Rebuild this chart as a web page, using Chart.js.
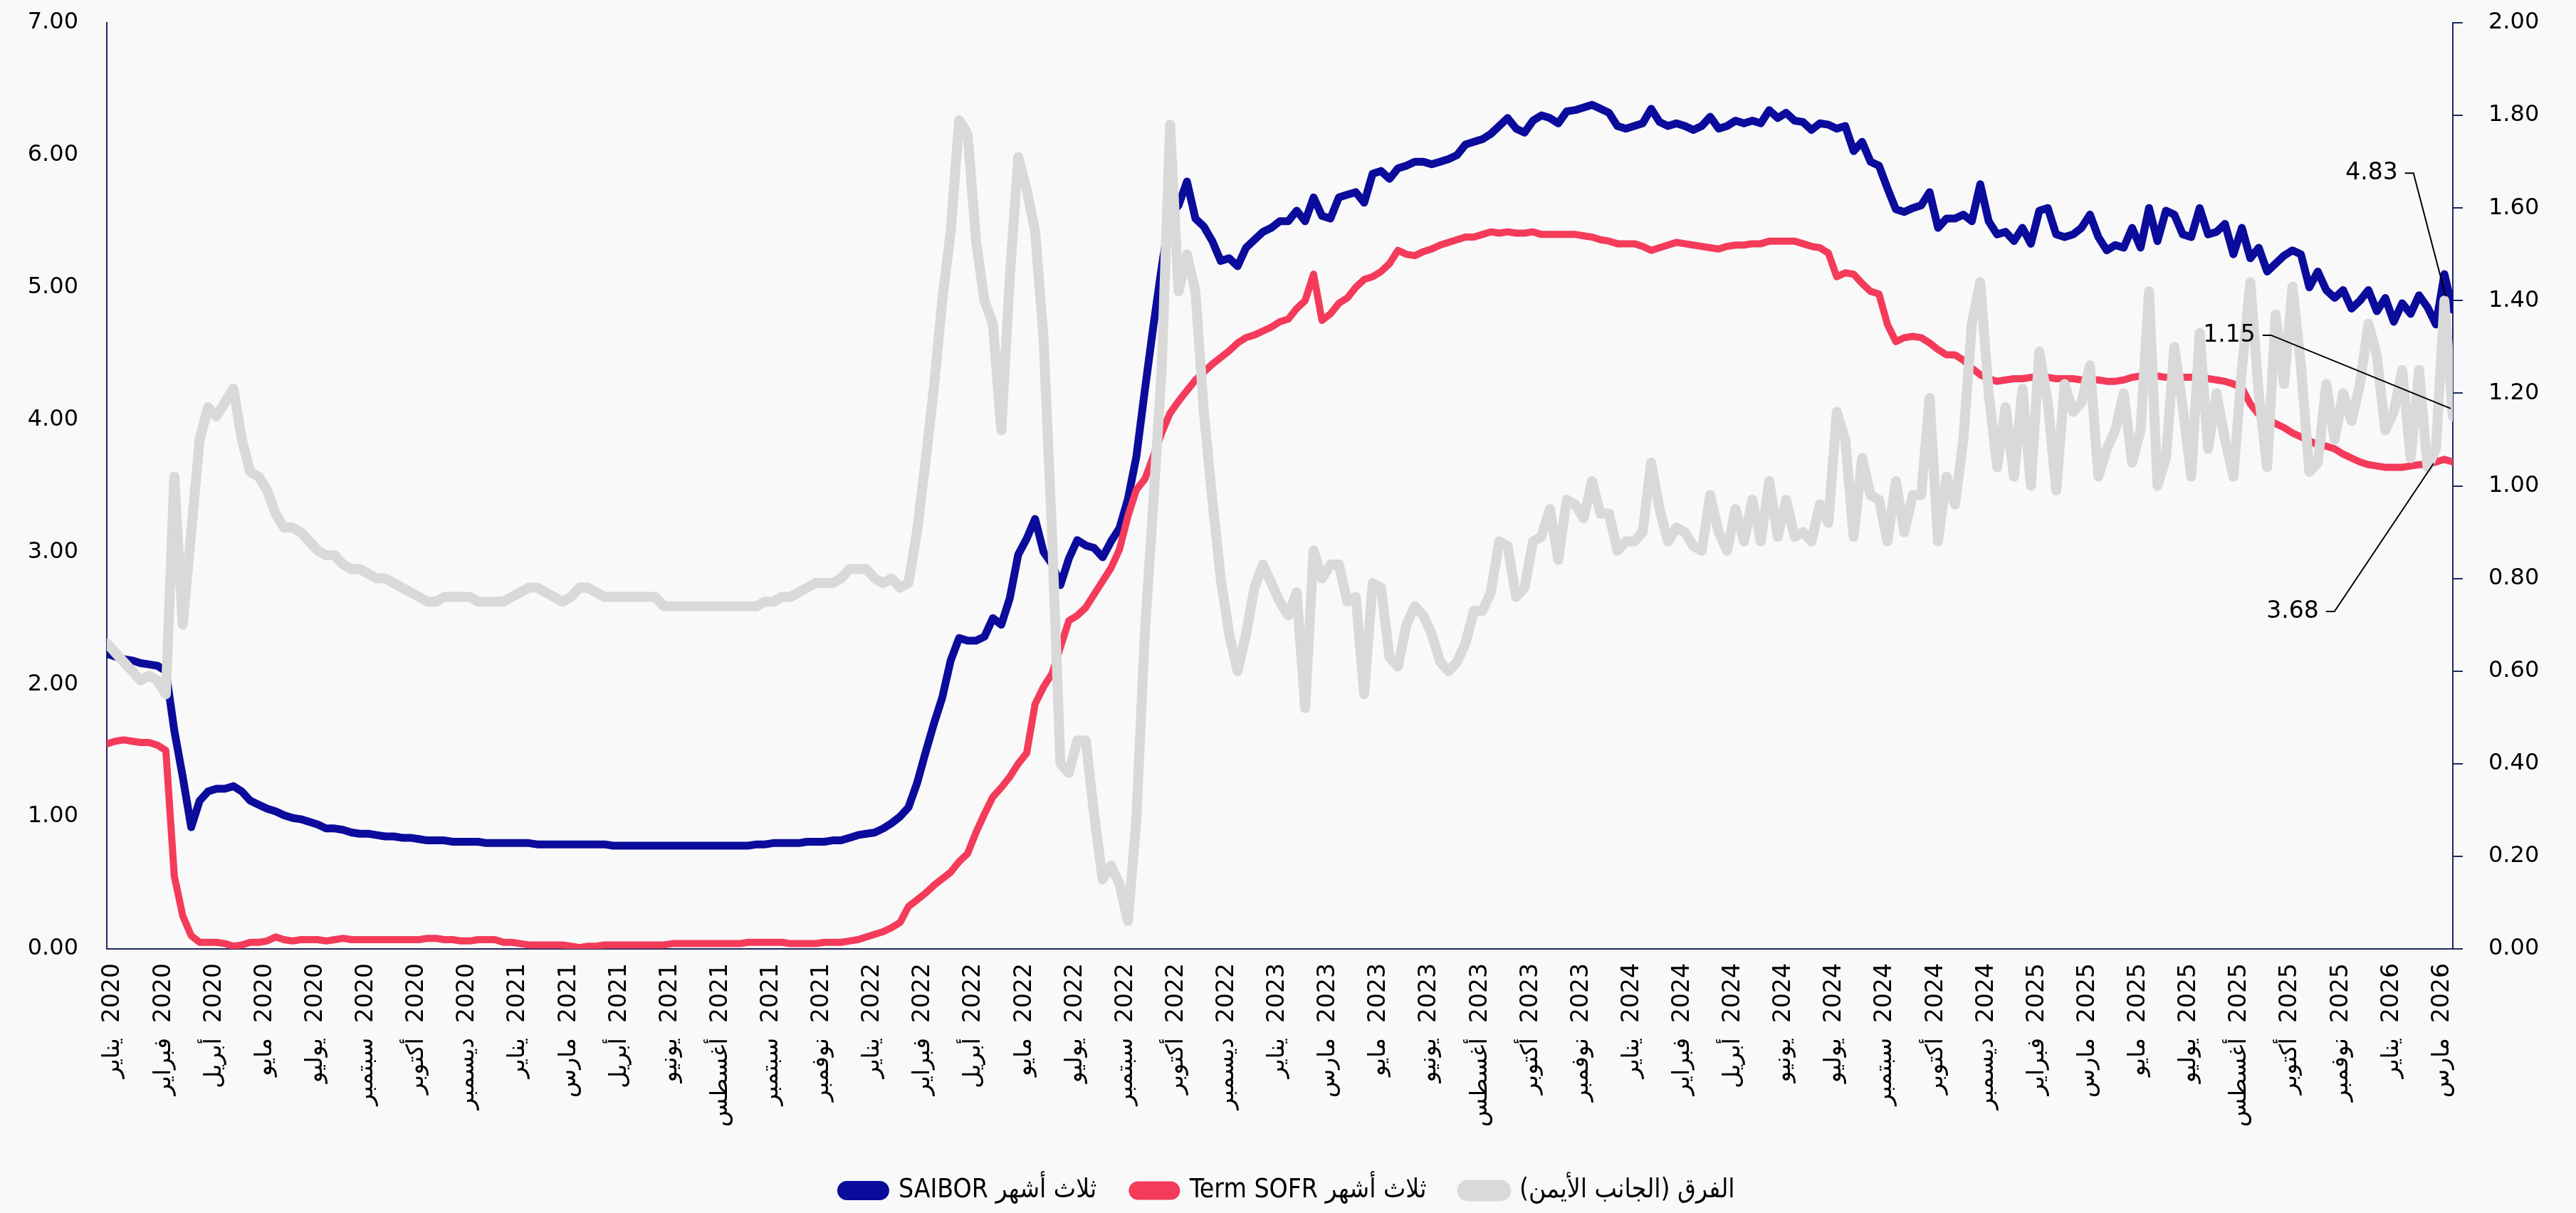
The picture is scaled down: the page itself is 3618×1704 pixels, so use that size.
<!DOCTYPE html>
<html><head><meta charset="utf-8">
<script src="https://cdn.jsdelivr.net/npm/chart.js@4.4.1/dist/chart.umd.min.js"></script>
<style>html,body{margin:0;padding:0;background:#f9f9f9;}#wrap{width:3618px;height:1704px;}</style>
</head><body><div id="wrap"><canvas id="c" width="3618" height="1704"></canvas></div>
<script>
// ---- tick labels (every 6th sample) ----
const months = ["يناير","فبراير","أبريل","مايو","يوليو","سبتمبر","أكتوبر","ديسمبر",
"يناير","مارس","أبريل","يونيو","أغسطس","سبتمبر","نوفمبر",
"يناير","فبراير","أبريل","مايو","يوليو","سبتمبر","أكتوبر","ديسمبر",
"يناير","مارس","مايو","يونيو","أغسطس","أكتوبر","نوفمبر",
"يناير","فبراير","أبريل","يونيو","يوليو","سبتمبر","أكتوبر","ديسمبر",
"فبراير","مارس","مايو","يوليو","أغسطس","أكتوبر","نوفمبر",
"يناير","مارس"];
const years = [2020,2020,2020,2020,2020,2020,2020,2020,
2021,2021,2021,2021,2021,2021,2021,
2022,2022,2022,2022,2022,2022,2022,2022,
2023,2023,2023,2023,2023,2023,2023,
2024,2024,2024,2024,2024,2024,2024,2024,
2025,2025,2025,2025,2025,2025,2025,
2026,2026];

// ---- series (roughly weekly samples) ----
const saibor = [
2.23,2.21,2.19,2.18,2.16,2.15,2.14,2.10,1.65,1.30,
0.92,1.12,1.19,1.21,1.21,1.23,1.19,1.12,1.09,1.06,
1.04,1.01,0.99,0.98,0.96,0.94,0.91,0.91,0.90,0.88,
0.87,0.87,0.86,0.85,0.85,0.84,0.84,0.83,0.82,0.82,
0.82,0.81,0.81,0.81,0.81,0.80,0.80,
0.80,0.80,0.80,0.80,0.79,0.79,0.79,0.79,0.79,0.79,0.79,0.79,0.79,
0.78,0.78,0.78,0.78,0.78,0.78,0.78,0.78,0.78,0.78,0.78,0.78,0.78,0.78,0.78,0.78,0.78,
0.79,0.79,0.80,0.80,0.80,0.80,0.81,0.81,0.81,0.82,0.82,0.84,0.86,0.87,0.88,0.91,0.95,
1.00,1.07,1.25,1.48,1.70,1.90,2.18,2.35,2.33,2.33,
2.36,2.50,2.45,2.65,2.98,3.10,3.25,3.00,2.91,2.75,
2.95,3.09,3.05,3.03,2.96,3.08,3.18,3.40,3.72,4.22,
4.70,5.15,5.55,5.62,5.80,5.52,5.46,5.35,5.20,5.22,
5.16,5.30,5.36,5.42,5.45,5.50,
5.50,5.58,5.50,5.68,5.54,5.52,5.68,5.70,5.72,5.64,
5.86,5.88,5.82,5.90,5.92,5.95,5.95,5.93,5.95,5.97,
6.00,6.08,6.10,6.12,6.16,6.22,6.28,6.20,6.17,6.26,
6.30,6.28,6.24,6.33,6.34,6.36,6.38,6.35,6.32,6.22,
6.20,6.22,6.24,6.35,6.25,6.22,
6.24,6.22,6.19,6.22,6.29,6.20,6.22,6.26,6.24,6.26,
6.24,6.34,6.28,6.32,6.26,6.25,6.19,6.24,6.23,6.20,
6.22,6.03,6.10,5.95,5.92,5.75,5.59,5.57,5.60,5.62,
5.72,5.45,5.52,5.52,5.55,5.50,5.78,5.50,5.40,5.42,
5.35,5.45,5.33,5.58,5.60,5.40,5.38,
5.40,5.45,5.55,5.38,5.28,5.32,5.30,5.45,5.30,5.60,
5.35,5.58,5.55,5.40,5.38,5.60,5.40,5.42,5.48,5.25,
5.45,5.22,5.30,5.12,5.18,5.24,5.28,5.25,5.00,5.12,
4.98,4.92,4.98,4.84,4.90,4.98,4.82,4.92,4.74,4.88,
4.80,4.94,4.85,4.72,5.10,4.83];

const sofr = [
1.55,1.57,1.58,1.57,1.56,1.56,1.54,1.50,0.55,0.25,
0.10,0.05,0.05,0.05,0.04,0.02,0.03,0.05,0.05,0.06,
0.09,0.07,0.06,0.07,0.07,0.07,0.06,0.07,0.08,0.07,
0.07,0.07,0.07,0.07,0.07,0.07,0.07,0.07,0.08,0.08,
0.07,0.07,0.06,0.06,0.07,0.07,0.07,
0.05,0.05,0.04,0.03,0.03,0.03,0.03,0.03,0.02,0.01,
0.02,0.02,0.03,0.03,0.03,0.03,0.03,0.03,0.03,0.03,
0.04,0.04,0.04,0.04,0.04,0.04,0.04,0.04,0.04,0.05,
0.05,0.05,0.05,0.05,0.04,0.04,0.04,0.04,0.05,0.05,
0.05,0.06,0.07,0.09,0.11,0.13,0.16,
0.20,0.32,0.37,0.42,0.48,0.53,0.58,0.66,0.72,0.88,
1.02,1.15,1.22,1.30,1.40,1.48,1.85,1.98,2.08,2.28,
2.48,2.52,2.58,2.68,2.78,2.88,3.02,3.27,3.47,3.55,
3.72,3.90,4.05,4.14,4.22,4.30,4.36,4.42,4.47,4.52,
4.58,4.62,4.64,4.67,4.70,4.74,
4.76,4.84,4.90,5.10,4.75,4.80,4.88,4.92,5.00,5.06,
5.08,5.12,5.18,5.28,5.25,5.24,5.27,5.29,5.32,5.34,
5.36,5.38,5.38,5.40,5.42,5.41,5.42,5.41,5.41,5.42,
5.40,5.40,5.40,5.40,5.40,5.39,5.38,5.36,5.35,5.33,
5.33,5.33,5.31,5.28,5.30,5.32,
5.34,5.33,5.32,5.31,5.30,5.29,5.31,5.32,5.32,5.33,
5.33,5.35,5.35,5.35,5.35,5.33,5.31,5.30,5.26,5.08,
5.11,5.10,5.03,4.97,4.95,4.72,4.59,4.62,4.63,4.62,
4.58,4.53,4.49,4.49,4.45,4.39,4.34,4.31,4.29,4.30,
4.31,4.31,4.32,4.32,4.32,4.31,4.31,
4.31,4.30,4.30,4.30,4.29,4.29,4.30,4.32,4.33,4.33,
4.33,4.32,4.32,4.32,4.32,4.33,4.31,4.30,4.29,4.27,
4.24,4.12,4.04,4.00,3.97,3.94,3.90,3.87,3.84,3.81,
3.80,3.78,3.74,3.71,3.68,3.66,3.65,3.64,3.64,3.64,
3.65,3.66,3.66,3.68,3.70,3.68];

const spread = [
0.66,0.64,0.62,0.60,0.58,0.59,0.58,0.55,1.02,0.70,
0.90,1.10,1.17,1.15,1.18,1.21,1.10,1.03,1.02,0.99,
0.94,0.91,0.91,0.90,0.88,0.86,0.85,0.85,0.83,0.82,
0.82,0.81,0.80,0.80,0.79,0.78,0.77,0.76,0.75,0.75,
0.76,0.76,0.76,0.76,0.75,0.75,0.75,
0.75,0.76,0.77,0.78,0.78,0.77,0.76,0.75,0.76,0.78,
0.78,0.77,0.76,0.76,0.76,0.76,0.76,0.76,0.76,0.74,
0.74,0.74,0.74,0.74,0.74,0.74,0.74,0.74,0.74,0.74,
0.74,0.75,0.75,0.76,0.76,0.77,0.78,0.79,0.79,0.79,
0.80,0.82,0.82,0.82,0.80,0.79,0.80,
0.78,0.79,0.90,1.05,1.21,1.40,1.55,1.79,1.76,1.53,
1.40,1.35,1.12,1.45,1.71,1.64,1.55,1.32,0.90,0.40,
0.38,0.45,0.45,0.29,0.15,0.18,0.14,0.06,0.28,0.68,
0.96,1.25,1.78,1.42,1.50,1.42,1.16,0.97,0.80,0.68,
0.60,0.68,0.78,0.83,0.79,0.75,
0.72,0.77,0.52,0.86,0.80,0.83,0.83,0.75,0.76,0.55,
0.79,0.78,0.63,0.61,0.70,0.74,0.72,0.68,0.62,0.60,
0.62,0.66,0.73,0.73,0.77,0.88,0.87,0.76,0.78,0.88,
0.89,0.95,0.84,0.97,0.96,0.93,1.01,0.94,0.94,0.86,
0.88,0.88,0.90,1.05,0.95,0.88,
0.91,0.90,0.87,0.86,0.98,0.90,0.86,0.95,0.88,0.97,
0.88,1.01,0.89,0.97,0.89,0.90,0.88,0.96,0.92,1.16,
1.10,0.89,1.06,0.98,0.97,0.88,1.01,0.90,0.98,0.98,
1.19,0.88,1.02,0.96,1.10,1.35,1.44,1.20,1.04,1.17,
1.02,1.21,1.00,1.29,1.18,0.99,1.22,
1.16,1.18,1.26,1.02,1.08,1.12,1.20,1.05,1.12,1.42,
1.00,1.06,1.30,1.17,1.02,1.33,1.08,1.20,1.10,1.02,
1.25,1.44,1.20,1.04,1.37,1.22,1.43,1.26,1.03,1.05,
1.22,1.10,1.20,1.14,1.22,1.35,1.28,1.12,1.16,1.25,
1.06,1.25,1.04,1.08,1.40,1.15];

const seriesNames = ["SAIBOR ثلاث أشهر", "Term SOFR ثلاث أشهر", "الفرق (الجانب الأيمن)\u200F"];
const tickLabels = months.map((m, k) => m + "\u200E  " + years[k]);

// ---- layout / style constants ----
const LABEL_START = 0.75, LABEL_STEP = 6;
const NAVY = '#1e2a5e';
const FONT = '"DejaVu Sans"';
const toPts = arr => arr.map((v, i) => ({x: i, y: v}));

// end-of-series callouts: pixel offsets from last point
const END_NOTES = [
  {ds: 0, text: [-114, -192], end: [-10, -19]},
  {ds: 2, text: [-314, -114], end: [-3, -11]},
  {ds: 1, text: [-225, 210], end: [-27, 2]}
];

const bgPlugin = {
  id: 'bg',
  beforeDraw(chart) {
    const c = chart.ctx; c.save(); c.fillStyle = '#f9f9f9';
    c.fillRect(0, 0, chart.width, chart.height); c.restore();
  }
};
const notePlugin = {
  id: 'notes',
  afterDatasetsDraw(chart) {
    const ctx = chart.ctx;
    ctx.save();
    ctx.font = '33px ' + FONT;
    ctx.fillStyle = '#000'; ctx.strokeStyle = '#000'; ctx.lineWidth = 2;
    ctx.textBaseline = 'middle'; ctx.textAlign = 'center';
    END_NOTES.forEach(n => {
      const meta = chart.getDatasetMeta(n.ds);
      const pts = meta.data; const pt = pts[pts.length - 1];
      const dsData = chart.data.datasets[n.ds].data;
      const txt = dsData[dsData.length - 1].y.toFixed(2);
      const tx = pt.x + n.text[0], ty = pt.y + n.text[1];
      const w = ctx.measureText(txt).width;
      ctx.fillText(txt, tx, ty);
      const hx0 = tx + w / 2 + 10, hx1 = hx0 + 12;
      ctx.beginPath(); ctx.moveTo(hx0, ty); ctx.lineTo(hx1, ty);
      ctx.lineTo(pt.x + n.end[0], pt.y + n.end[1]); ctx.stroke();
    });
    ctx.restore();
  }
};
const noVPad = s => { s.paddingTop = 0; s.paddingBottom = 0; };

new Chart(document.getElementById('c'), {
  type: 'line',
  data: {
    datasets: [
      {label: seriesNames[0], data: toPts(saibor), yAxisID: 'y', borderColor: '#0b0b9c', backgroundColor: '#0b0b9c', borderWidth: 11, order: 2},
      {label: seriesNames[1], data: toPts(sofr), yAxisID: 'y', borderColor: '#f43b5a', backgroundColor: '#f43b5a', borderWidth: 10, order: 1},
      {label: seriesNames[2], data: toPts(spread), yAxisID: 'y1', borderColor: '#d9d9d9', backgroundColor: '#d9d9d9', borderWidth: 14, order: 0}
    ]
  },
  options: {
    responsive: false, animation: false, devicePixelRatio: 1,
    layout: {padding: {top: 32, left: 0, right: 0, bottom: 3}},
    elements: {point: {radius: 0}, line: {tension: 0, borderJoinStyle: 'round', borderCapStyle: 'round'}},
    plugins: {
      tooltip: {enabled: false},
      legend: {
        position: 'bottom',
        labels: {
          color: '#000', font: {family: '"DejaVu Sans Condensed", "DejaVu Sans"', size: 37},
          boxWidth: 62, boxHeight: 16, useBorderRadius: true, borderRadius: 8, padding: 50,
          sort: (a, b) => a.datasetIndex - b.datasetIndex
        }
      }
    },
    scales: {
      x: {
        type: 'linear', min: 0, max: saibor.length - 1,
        afterBuildTicks: ax => { ax.ticks = tickLabels.map((_, k) => ({value: LABEL_START + k * LABEL_STEP})); },
        afterFit: s => { s.height = 271; },
        grid: {display: false, drawTicks: false},
        border: {display: true, color: NAVY, width: 2},
        ticks: {
          autoSkip: false, minRotation: 90, maxRotation: 90, padding: 20,
          color: '#000', font: {family: FONT, size: 33},
          callback: (v, i) => tickLabels[i]
        }
      },
      y: {
        position: 'left', min: 0, max: 7,
        afterFit: s => { s.width = 150; noVPad(s); },
        grid: {display: false, drawTicks: false},
        border: {display: true, color: NAVY, width: 2},
        ticks: {stepSize: 1, padding: 40, color: '#000', font: {family: FONT, size: 32}, callback: v => v.toFixed(2)}
      },
      y1: {
        position: 'right', min: 0, max: 2,
        afterFit: s => { s.width = 173; noVPad(s); },
        grid: {display: true, drawOnChartArea: false, drawTicks: true, tickLength: 14, color: NAVY, lineWidth: 2},
        border: {display: true, color: NAVY, width: 2},
        ticks: {stepSize: 0.2, padding: 36, color: '#000', font: {family: FONT, size: 32}, callback: v => v.toFixed(2)}
      }
    }
  },
  plugins: [bgPlugin, notePlugin]
});
</script></body></html>
